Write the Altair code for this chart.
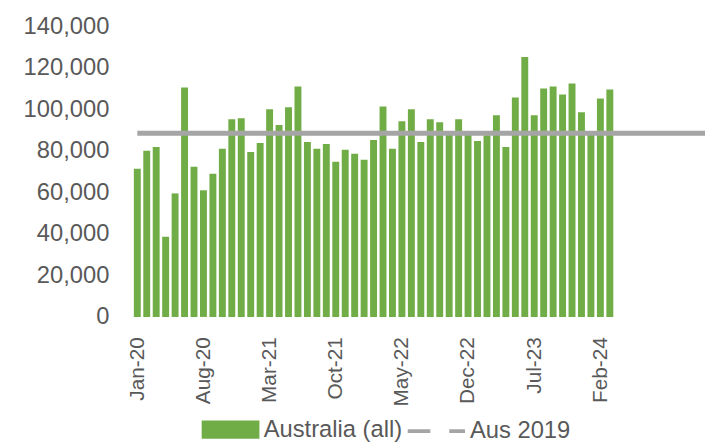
import altair as alt
import pandas as pd

# ---- data ----
months = [
    "Jan-20", "Feb-20", "Mar-20", "Apr-20", "May-20", "Jun-20", "Jul-20", "Aug-20", "Sep-20", "Oct-20", "Nov-20", "Dec-20",
    "Jan-21", "Feb-21", "Mar-21", "Apr-21", "May-21", "Jun-21", "Jul-21", "Aug-21", "Sep-21", "Oct-21", "Nov-21", "Dec-21",
    "Jan-22", "Feb-22", "Mar-22", "Apr-22", "May-22", "Jun-22", "Jul-22", "Aug-22", "Sep-22", "Oct-22", "Nov-22", "Dec-22",
    "Jan-23", "Feb-23", "Mar-23", "Apr-23", "May-23", "Jun-23", "Jul-23", "Aug-23", "Sep-23", "Oct-23", "Nov-23", "Dec-23",
    "Jan-24", "Feb-24", "Mar-24",
]
australia_all = [
    71400, 80000, 81900, 38600, 59500, 110500, 72400, 61000, 69000, 81000, 95200, 95700,
    79500, 83800, 100000, 92400, 101000, 111000, 84300, 81000, 83300, 74800, 80500, 78600,
    75700, 85200, 101400, 81000, 94300, 100000, 84300, 95200, 93800, 89000, 95200, 89500,
    84800, 87500, 97100, 81900, 105700, 125200, 97100, 110000, 111000, 107100, 112400, 98600,
    89000, 105200, 109500,
]
aus_2019 = 88500
line_months_extra = ["Apr-24", "May-24", "Jun-24", "Jul-24", "Aug-24", "Sep-24", "Oct-24", "Nov-24", "Dec-24", "Jan-25", "Feb-25"]
tick_labels = ["Jan-20", "Aug-20", "Mar-21", "Oct-21", "May-22", "Dec-22", "Jul-23", "Feb-24"]
y_ticks = [0, 20000, 40000, 60000, 80000, 100000, 120000, 140000]

GREEN = "#70AD47"
GREY = "#A5A5A5"
TEXT = "#595959"
FONT = "Liberation Sans"

bars_df = pd.DataFrame({
    "idx": list(range(len(months))),
    "month": months,
    "value": australia_all,
    "series": "Australia (all)",
})
all_line_months = months + line_months_extra
line_df = pd.DataFrame({
    "idx": list(range(len(all_line_months))),
    "month": all_line_months,
    "value": [aus_2019] * len(all_line_months),
    "series": "Aus 2019",
})

tick_idx = [months.index(m) for m in tick_labels]
label_expr = "{" + ",".join(f"'{i}':'{m}'" for i, m in zip(tick_idx, tick_labels)) + "}[''+datum.value]"

x_scale = alt.Scale(domain=[-0.5, 60.07], nice=False, zero=False)
y_scale = alt.Scale(domain=[0, 140000], nice=False)

x_axis = alt.Axis(
    values=tick_idx, labelExpr=label_expr, labelAngle=-90, labelAlign="right", labelBaseline="middle",
    labelFontSize=21, labelColor=TEXT, labelFont=FONT, labelPadding=20,
    ticks=False, domain=False, grid=False, title=None, labelOverlap=False,
)
y_axis = alt.Axis(
    values=y_ticks, format=",d", labelFontSize=24, labelColor=TEXT, labelFont=FONT,
    labelPadding=24, ticks=False, domain=False, grid=False, title=None,
)

LEG_Y = 378.5

bars = alt.Chart(bars_df).mark_bar().transform_calculate(
    x0="datum.idx - 0.366", x1="datum.idx + 0.366"
).encode(
    x=alt.X("x0:Q", scale=x_scale, axis=x_axis),
    x2="x1:Q",
    y=alt.Y("value:Q", scale=y_scale, axis=y_axis),
    y2=alt.datum(0),
    fill=alt.Fill(
        "series:N",
        scale=alt.Scale(domain=["Australia (all)"], range=[GREEN]),
        legend=alt.Legend(
            title=None, orient="none", legendX=69.6, legendY=LEG_Y,
            symbolType="M-1,-0.317H1V0.317H-1Z", symbolSize=3411, symbolStrokeWidth=0,
            labelFontSize=24, labelColor=TEXT, labelFont=FONT, labelOffset=4,
        ),
    ),
)

line = alt.Chart(line_df).mark_line(strokeWidth=5, clip=True).encode(
    x=alt.X("idx:Q", scale=x_scale, axis=x_axis),
    y=alt.Y("value:Q", scale=y_scale, axis=y_axis),
    stroke=alt.Stroke(
        "series:N",
        scale=alt.Scale(domain=["Aus 2019"], range=[GREY]),
        legend=alt.Legend(
            title=None, orient="none", legendX=276.3, legendY=LEG_Y,
            symbolType="M-1,0H-0.21M0.45,0H1", symbolSize=3364, symbolStrokeWidth=4,
            labelFontSize=24, labelColor=TEXT, labelFont=FONT, labelOffset=3,
        ),
    ),
)

chart = alt.layer(bars, line).properties(
    width=579, height=294,
    autosize=alt.AutoSizeParams(type="none"),
    padding={"left": 126, "top": 16, "right": 0, "bottom": 124},
).configure(font=FONT).configure_view(strokeWidth=0, stroke="transparent")

chart.save("out.html", embed_options={"renderer": "svg", "actions": False})
